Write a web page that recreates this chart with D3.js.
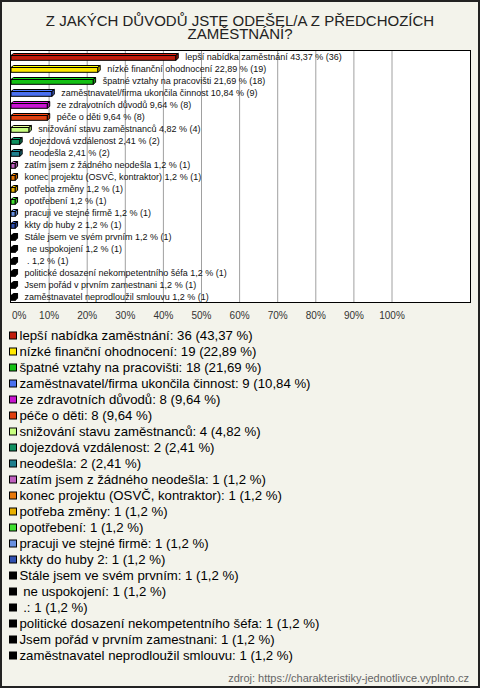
<!DOCTYPE html>
<html><head><meta charset="utf-8">
<script src="https://cdn.jsdelivr.net/npm/d3@7"></script>
<style>html,body{margin:0;padding:0;background:#fff;}svg{display:block;font-family:"Liberation Sans",Arial,sans-serif;}</style>
</head><body><svg id="c" width="480" height="688"></svg>
<script>
const titleLines = ["Z JAKÝCH DŮVODŮ JSTE ODEŠEL/A Z PŘEDCHOZÍCH", "ZAMĚSTNÁNÍ?"];
const categories = [
  "lepší nabídka zaměstnání",
  "nízké finanční ohodnocení",
  "špatné vztahy na pracovišti",
  "zaměstnavatel/firma ukončila činnost",
  "ze zdravotních důvodů",
  "péče o děti",
  "snižování stavu zaměstnanců",
  "dojezdová vzdálenost",
  "neodešla",
  "zatím jsem z žádného neodešla",
  "konec projektu (OSVČ, kontraktor)",
  "potřeba změny",
  "opotřebení",
  "pracuji ve stejné firmě",
  "kkty do huby 2",
  "Stále jsem ve svém prvním",
  " ne uspokojení",
  " .",
  "politické dosazení nekompetentního šéfa",
  "Jsem pořád v prvním zamestnani",
  "zaměstnavatel neprodloužil smlouvu"
];
const counts = [36,19,18,9,8,8,4,2,2,1,1,1,1,1,1,1,1,1,1,1,1];
const percents = [43.37,22.89,21.69,10.84,9.64,9.64,4.82,2.41,2.41,1.2,1.2,1.2,1.2,1.2,1.2,1.2,1.2,1.2,1.2,1.2,1.2];
const colors = ["#c01c0c","#ffe800","#14c014","#4a70f0","#c814d0","#e04010","#c8ff80","#109060","#1e7f8e","#c060c0","#e87808","#e8b000","#40e030","#6890e0","#3050b0","#000000","#000000","#000000","#000000","#000000","#000000"];
const tickValues = [0,10,20,30,40,50,60,70,80,90,100];
const sourceText = "zdroj: https://charakteristiky-jednotlivce.vyplnto.cz";

const fmt = p => String(p).replace(".", ",");
const svg = d3.select("#c");

// background + frame
svg.append("rect").attr("x",1).attr("y",1).attr("width",478).attr("height",686)
  .attr("fill","#f3f3eb").attr("stroke","#222").attr("stroke-width",2);

// title
svg.append("text").attr("text-anchor","middle").attr("font-size",15).attr("fill","#222")
  .selectAll("tspan").data(titleLines).join("tspan")
  .attr("x",240).attr("y",(d,i)=>26+i*12.6).text(d=>d);

const plot = {l:10.5, t:50.5, r:470.5, b:302.5};
const x = d3.scaleLinear().domain([0,100]).range([plot.l, 391.5]);
const idx = d3.range(categories.length);
const y = d3.scaleBand().domain(idx).range([plot.t, plot.b]);

svg.append("rect").attr("x",plot.l).attr("y",plot.t).attr("width",plot.r-plot.l).attr("height",plot.b-plot.t)
  .attr("fill","#fff");

// gridlines
const grid = svg.append("g").attr("transform",`translate(0,${plot.b})`)
  .call(d3.axisBottom(x).tickValues(tickValues.slice(1)).tickSize(-(plot.b-plot.t)).tickFormat(""));
grid.select(".domain").remove();
grid.selectAll("line").attr("stroke","#a0a0a0").attr("stroke-width",1);

// frame
svg.append("rect").attr("x",plot.l).attr("y",plot.t).attr("width",plot.r-plot.l).attr("height",plot.b-plot.t)
  .attr("fill","none").attr("stroke","#000").attr("stroke-width",1);

// tick labels
const ax = svg.append("g").attr("transform",`translate(0,${plot.b})`)
  .call(d3.axisBottom(x).tickValues(tickValues).tickSize(0).tickPadding(9).tickFormat(d=>d+"%"));
ax.select(".domain").remove();
ax.selectAll("text").attr("font-size",10).attr("fill","#333").attr("font-family","Liberation Sans, Arial, sans-serif");
ax.selectAll(".tick").filter(d=>d===0).select("text").attr("text-anchor","start").attr("x",1);

// bars (3D style)
const dx = 2.5, dy = 2;
const bars = svg.append("g").selectAll("g").data(idx).join("g");
bars.each(function(i){
  const g = d3.select(this);
  const c = y(i) + y.bandwidth()/2;
  const x0 = x(0) + 0.5, x1 = x(percents[i]);
  const top = c - 1, bot = c + 3.8;
  const col = d3.color(colors[i]);
  const light = colors[i]==="#000000" ? "#000" : col.brighter(0.4).formatHex();
  const dark = colors[i]==="#000000" ? "#000" : col.darker(0.6).formatHex();
  g.append("path").attr("d",`M${x0},${top}L${x0+dx},${top-dy}L${x1+dx},${top-dy}L${x1},${top}Z`)
    .attr("fill",light).attr("stroke","#000").attr("stroke-width",1).attr("stroke-linejoin","round");
  g.append("path").attr("d",`M${x1},${top}L${x1+dx},${top-dy}L${x1+dx},${bot-dy}L${x1},${bot}Z`)
    .attr("fill",dark).attr("stroke","#000").attr("stroke-width",1).attr("stroke-linejoin","round");
  g.append("rect").attr("x",x0).attr("y",top).attr("width",x1-x0).attr("height",bot-top)
    .attr("fill",colors[i]).attr("stroke","#000").attr("stroke-width",1);
  g.append("text").attr("x",x1+9.5).attr("y",c+3.3).attr("font-size",9).attr("fill","#111")
    .style("white-space","pre")
    .text(`${categories[i]} ${fmt(percents[i])} % (${counts[i]})`);
});

// legend
const leg = svg.append("g").selectAll("g").data(idx).join("g")
  .attr("transform",i=>`translate(0,${335.5+i*16})`);
leg.append("rect").attr("x",9.5).attr("y",-3.5).attr("width",7).attr("height",7)
  .attr("fill",i=>colors[i]).attr("stroke","#000").attr("stroke-width",1);
leg.append("text").attr("x",19.5).attr("y",4.7).attr("font-size",13.2).attr("fill","#000")
  .style("white-space","pre")
  .text(i=>`${categories[i]}: ${counts[i]} (${fmt(percents[i])} %)`);

// source
svg.append("text").attr("x",469).attr("y",682).attr("text-anchor","end").attr("font-size",11)
  .attr("fill","#666").text(sourceText);
</script></body></html>
